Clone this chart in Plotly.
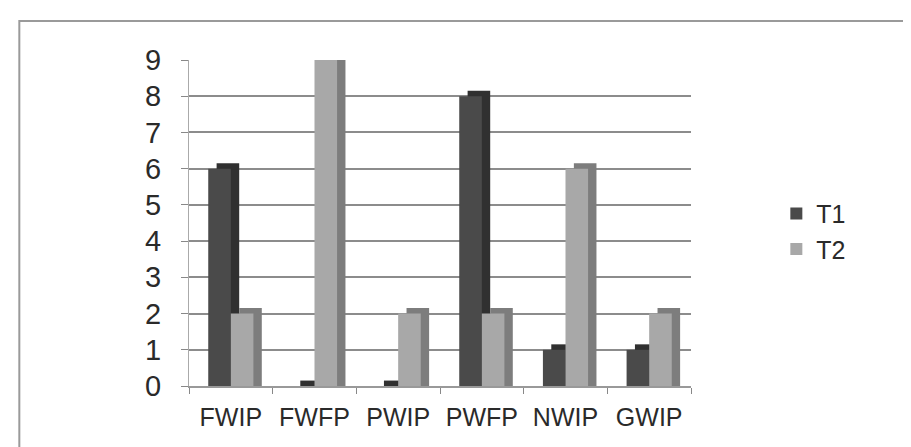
import plotly.graph_objects as go

categories = ["FWIP", "FWFP", "PWIP", "PWFP", "NWIP", "GWIP"]
t1_values = [6, 0, 0, 8, 1, 1]
t2_values = [2, 9, 2, 2, 6, 2]
series_names = ["T1", "T2"]
y_ticks = [0, 1, 2, 3, 4, 5, 6, 7, 8, 9]

front_colors = ["#4a4a4a", "#a8a8a8"]
side_colors = ["#303030", "#7d7d7d"]
bar_w = 0.27
depth_x = 0.1
depth_y = 0.15
font_family = "Liberation Sans, Arial, sans-serif"

fig = go.Figure()
for i, (name, vals) in enumerate(zip(series_names, [t1_values, t2_values])):
    off = -bar_w + i * bar_w
    # depth/side face (shifted right & up)
    fig.add_trace(go.Bar(
        x=categories, y=[v + depth_y for v in vals], base=0,
        width=bar_w, offset=off + depth_x,
        marker=dict(color=side_colors[i], line=dict(width=0)),
        showlegend=False, hoverinfo="skip"))
    # front face
    fig.add_trace(go.Bar(
        x=categories, y=vals, name=name,
        width=bar_w, offset=off,
        marker=dict(color=front_colors[i], line=dict(width=0))))

fig.update_layout(
    barmode="overlay",
    width=911, height=447,
    margin=dict(l=181, r=228, t=52, b=69),
    paper_bgcolor="white", plot_bgcolor="white",
    font=dict(family=font_family, color="#2a2a2a"),
    showlegend=True,
    legend=dict(x=1.17, y=0.475, xanchor="left", yanchor="middle",
                font=dict(size=25, color="#2a2a2a"), itemwidth=30,
                tracegroupgap=0, bgcolor="rgba(0,0,0,0)"),
    xaxis=dict(type="category", tickson="boundaries", ticks="outside",
               ticklen=6, tickcolor="#888888", showline=True,
               linecolor="#999999", linewidth=2, showgrid=False,
               tickfont=dict(size=25, color="#2a2a2a"),
               ticklabelstandoff=8, range=[-0.5, 5.5]),
    yaxis=dict(range=[0, 9], tickvals=y_ticks, ticks="outside", ticklen=7,
               tickcolor="#888888", showline=True, linecolor="#aaaaaa",
               linewidth=1, showgrid=True, gridcolor="#8c8c8c",
               gridwidth=2, zeroline=False,
               tickfont=dict(size=29, color="#2a2a2a"),
               ticklabelstandoff=14),
    shapes=[dict(type="rect", xref="paper", yref="paper",
                 x0=-0.338, x1=1.44, y0=-0.25, y1=1.12,
                 line=dict(color="#9a9a9a", width=2), layer="below")],
)

fig.write_html("out.html")
